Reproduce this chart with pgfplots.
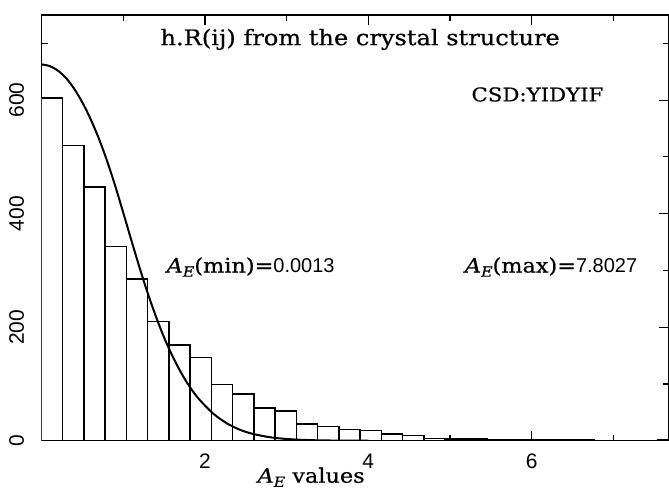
\documentclass[border=0pt]{standalone}
\usepackage{fontspec}
\setmainfont{DejaVu Serif}[FakeStretch=1.12, FakeBold=0.6]
\newfontfamily\hel{Liberation Sans}
\usepackage{pgfplots}
\pgfplotsset{compat=1.18}

\newcommand{\AsubE}{{\itshape A}\raisebox{-0.4ex}{\fontsize{14}{14}\selectfont\itshape E}}

\begin{document}
\begin{tikzpicture}
\useasboundingbox (-41.5pt,-51.3pt) rectangle (627.5pt,440.7pt);
\begin{axis}[
  at={(0,0)}, anchor=south west,
  scale only axis,
  width=627.5pt, height=425.7pt,
  xmin=0, xmax=7.68,
  ymin=0, ymax=750,
  xtick={2,4,6}, minor xtick={1,3,5,7},
  ytick={0,200,400,600}, minor ytick={100,300,500,700},
  tick align=inside,
  major tick length=10pt, minor tick length=6pt,
  every tick/.style={black, line width=1.2pt},
  axis line style={line width=1.6pt},
  ticklabel style={font=\hel\fontsize{21}{21}\selectfont},
  /pgf/number format/assume math mode=true,
  yticklabel style={rotate=90, anchor=south, yshift=14pt},
  xticklabel style={yshift=-10pt},
  xlabel={\AsubE\ values},
  xlabel style={font=\fontsize{20}{20}\selectfont, at={(axis cs:3.3,0)}, anchor=base, yshift=-42pt},
  clip=true,
]
\addplot[ybar interval, draw=black, fill=white, line width=1.5pt] coordinates {
(0.00,604) (0.26,520) (0.52,447) (0.78,342) (1.04,285) (1.30,210)
(1.56,169) (1.82,147) (2.08,99) (2.34,82) (2.60,58) (2.86,52)
(3.12,29) (3.38,25) (3.64,20) (3.90,18) (4.16,12) (4.42,9)
(4.68,4) (4.94,3) (5.20,3) (5.46,2) (5.72,2) (5.98,2)
(6.24,1) (6.50,1) (6.76,0) (7.02,0) (7.28,0) (7.54,1) (7.80,1)
};
\addplot[black, line width=2pt, smooth] coordinates {
(0.0,663) (0.1,660) (0.2,652) (0.3,639) (0.4,620) (0.5,596)
(0.6,567) (0.7,533) (0.8,494) (0.9,450) (1.0,402) (1.1,353)
(1.2,305) (1.3,260) (1.4,219) (1.5,182) (1.6,150) (1.7,122)
(1.8,98) (1.9,78) (2.0,62) (2.1,48) (2.2,37) (2.3,28)
(2.4,21) (2.5,15.5) (2.6,11.5) (2.7,8.5) (2.8,6) (2.9,4.3)
(3.0,3) (3.2,1.4) (3.5,0.4) (4.0,0)
};
\node[font=\fontsize{21.5}{21.5}\selectfont] at (axis cs:3.9,707) {h.R(ij) from the crystal structure};
\node[font=\fontsize{19}{19}\selectfont] at (axis cs:6.07,610) {CSD:YIDYIF};
\node[font=\fontsize{20}{20}\selectfont, anchor=west, inner sep=0pt] at (axis cs:1.53,306) {\AsubE(min)={\hel 0.0013}};
\node[font=\fontsize{20}{20}\selectfont, anchor=west, inner sep=0pt] at (axis cs:5.18,306) {\AsubE(max)={\hel 7.8027}};
\end{axis}
\end{tikzpicture}
\end{document}
